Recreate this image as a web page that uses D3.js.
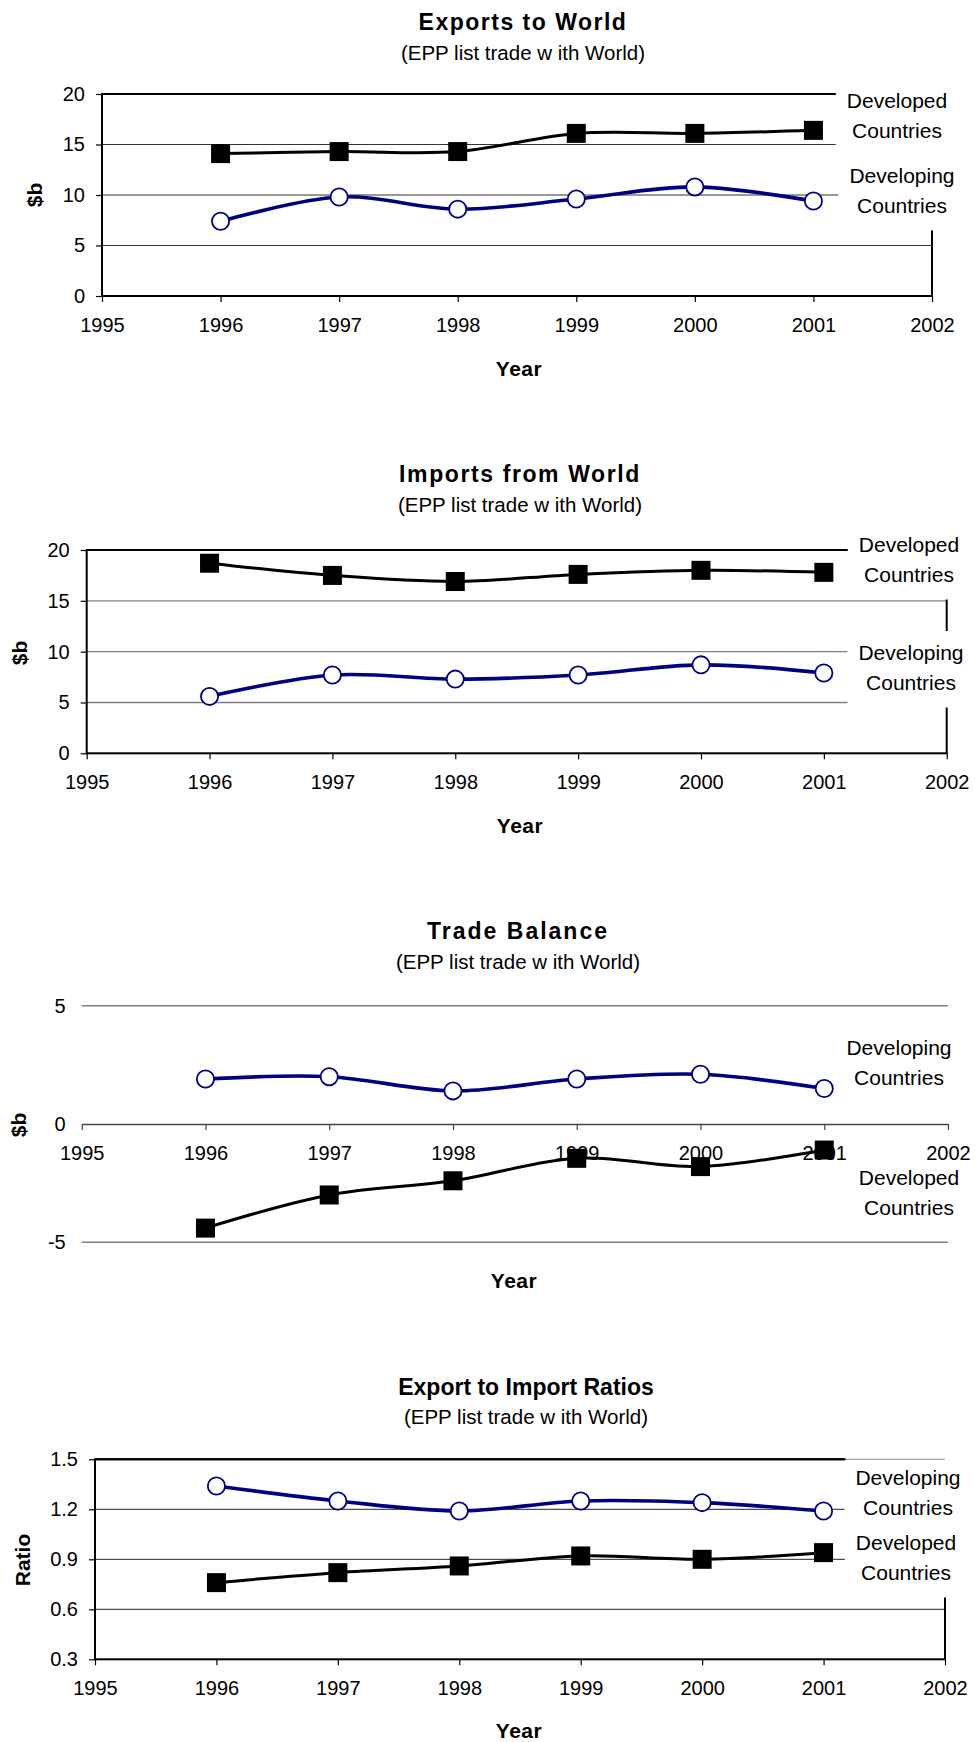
<!DOCTYPE html>
<html>
<head>
<meta charset="utf-8">
<script src="https://cdn.jsdelivr.net/npm/d3@7"></script>
<style>
  body { margin: 0; background: #fff; }
  svg text { font-family: "Liberation Sans", Arial, sans-serif; fill: #000; }
</style>
</head>
<body>
<svg id="chart" width="975" height="1742"></svg>
<script>
/* EPP list trade with World — four small line charts */

const years = [1996, 1997, 1998, 1999, 2000, 2001];
const yearTicks = [1995, 1996, 1997, 1998, 1999, 2000, 2001, 2002];
const seriesNames = { dev: 'Developed Countries', dvg: 'Developing Countries' };
const subtitle = '(EPP list trade w ith World)';

// $b
const exportsDeveloped = [14.1, 14.3, 14.3, 16.1, 16.1, 16.4];
const exportsDeveloping = [7.4, 9.8, 8.6, 9.6, 10.8, 9.4];
const importsDeveloped = [18.7, 17.5, 16.9, 17.6, 18.0, 17.8];
const importsDeveloping = [5.6, 7.7, 7.3, 7.7, 8.7, 7.9];
const balanceDeveloped = [-4.4, -3.0, -2.4, -1.45, -1.8, -1.1];
const balanceDeveloping = [1.9, 2.0, 1.4, 1.9, 2.1, 1.5];
// ratio
const ratioDeveloped = [0.76, 0.82, 0.86, 0.92, 0.90, 0.94];
const ratioDeveloping = [1.34, 1.25, 1.19, 1.25, 1.24, 1.19];

const moneyTicks = [0, 5, 10, 15, 20];
const balanceTicks = [-5, 0, 5];
const ratioTicks = [0.3, 0.6, 0.9, 1.2, 1.5];

const NAVY = '#000080';
const FONT = '"Liberation Sans", Arial, sans-serif';
const svg = d3.select('#chart');

// plain hyphen for negatives, like the original
const intFmt = d => String(d);
const ratioFmt = d => d.toFixed(1);

const panels = [
  {
    title: 'Exports to World', titleX: 523, titleY: 30, subY: 60, spacing: 1.5,
    x0: 102, x1: 932, yTop: 94, yBot: 296, domain: [0, 20], ticks: moneyTicks, fmt: intFmt,
    yLabel: '$b', yLabelX: 34, yLabelY: 195, yearX: 519, yearY: 376,
    frame: true, grid: '#333', gridW: 1,
    dev: exportsDeveloped, dvg: exportsDeveloping,
    legend: [{ key: 'dev', cx: 897, y: 108 }, { key: 'dvg', cx: 902, y: 183 }], box: true
  },
  {
    title: 'Imports from World', titleX: 520, titleY: 482, subY: 512, spacing: 1.6,
    x0: 86.7, x1: 946.7, yTop: 550, yBot: 753.3, domain: [0, 20], ticks: moneyTicks, fmt: intFmt,
    yLabel: '$b', yLabelX: 19, yLabelY: 653, yearX: 520, yearY: 833,
    frame: true, grid: '#808080', gridW: 1.3,
    dev: importsDeveloped, dvg: importsDeveloping,
    legend: [{ key: 'dev', cx: 909, y: 552 }, { key: 'dvg', cx: 911, y: 660 }], box: true
  },
  {
    title: 'Trade Balance', titleX: 518, titleY: 939, subY: 969, spacing: 2,
    x0: 81.7, x1: 948, yTop: 1005.7, yBot: 1242.3, domain: [-5, 5], ticks: balanceTicks, fmt: intFmt,
    yLabel: '$b', yLabelX: 18, yLabelY: 1125, yearX: 514, yearY: 1288,
    frame: false, grid: '#808080', gridW: 1.5,
    dev: balanceDeveloped, dvg: balanceDeveloping,
    legend: [{ key: 'dvg', cx: 899, y: 1055 }, { key: 'dev', cx: 909, y: 1185 }], box: false
  },
  {
    title: 'Export to Import Ratios', titleX: 526, titleY: 1395, subY: 1424, spacing: 0,
    x0: 95, x1: 945, yTop: 1459.3, yBot: 1659.3, domain: [0.3, 1.5], ticks: ratioTicks, fmt: ratioFmt,
    yLabel: 'Ratio', yLabelX: 22, yLabelY: 1560, yearX: 519, yearY: 1738,
    frame: true, grid: '#222', gridW: 1, topGrid: '#909090',
    dev: ratioDeveloped, dvg: ratioDeveloping,
    legend: [{ key: 'dvg', cx: 908, y: 1485 }, { key: 'dev', cx: 906, y: 1550 }], box: true
  }
];

panels.forEach(drawPanel);

function drawPanel(p) {
  const g = svg.append('g');

  const x = d3.scaleLinear().domain([1995, 2002]).range([p.x0, p.x1]);
  const y = d3.scaleLinear().domain(p.domain).range([p.yBot, p.yTop]);

  // ---- Titles ----
  g.append('text')
    .attr('x', p.titleX).attr('y', p.titleY)
    .attr('text-anchor', 'middle')
    .attr('font-size', 23).attr('font-weight', 'bold')
    .attr('letter-spacing', p.spacing)
    .text(p.title);
  g.append('text')
    .attr('x', p.titleX).attr('y', p.subY)
    .attr('text-anchor', 'middle')
    .attr('font-size', 20.5)
    .text(subtitle);

  // ---- Grid ----
  const inner = p.ticks.filter(t => t !== p.domain[0] && t !== p.domain[1]);
  const gridVals = p.frame ? inner : p.ticks.filter(t => t !== 0);
  g.append('g')
    .selectAll('line').data(gridVals).join('line')
    .attr('x1', x(1995)).attr('x2', x(2002))
    .attr('y1', d => y(d)).attr('y2', d => y(d))
    .attr('stroke', p.grid).attr('stroke-width', p.gridW);

  // ---- Axes ----
  const axisY = p.frame ? y(p.domain[0]) : y(0);
  const xAxis = g.append('g')
    .attr('transform', `translate(0,${axisY})`)
    .call(d3.axisBottom(x).tickValues(yearTicks).tickFormat(intFmt)
      .tickSize(6).tickSizeOuter(0).tickPadding(16))
    .attr('font-size', 20)
    .attr('font-family', FONT);
  if (p.frame) {
    xAxis.select('.domain').remove();
    xAxis.selectAll('.tick line').attr('stroke', '#000').attr('stroke-width', 1.2);
  } else {
    xAxis.select('.domain').attr('stroke', '#444').attr('stroke-width', 1.4);
    xAxis.selectAll('.tick line').attr('stroke', '#444').attr('stroke-width', 1.2);
  }

  const yAxis = g.append('g')
    .attr('transform', `translate(${x(1995)},0)`)
    .call(d3.axisLeft(y).tickValues(p.ticks).tickFormat(p.fmt)
      .tickSize(p.frame ? 6 : 0).tickSizeOuter(0).tickPadding(p.frame ? 11 : 16))
    .attr('font-size', 20)
    .attr('font-family', FONT);
  yAxis.select('.domain').remove();
  yAxis.selectAll('.tick line').attr('stroke', '#000').attr('stroke-width', 1.2);

  // ---- Plot frame ----
  if (p.frame) {
    g.append('rect')
      .attr('x', x(1995)).attr('y', y(p.domain[1]))
      .attr('width', x(2002) - x(1995))
      .attr('height', y(p.domain[0]) - y(p.domain[1]))
      .attr('fill', 'none').attr('stroke', '#000').attr('stroke-width', 2);
  }

  // ---- Axis titles ----
  g.append('text')
    .attr('transform', `translate(${p.yLabelX},${p.yLabelY}) rotate(-90)`)
    .attr('text-anchor', 'middle').attr('dominant-baseline', 'central')
    .attr('font-size', 21).attr('font-weight', 'bold')
    .text(p.yLabel);
  g.append('text')
    .attr('x', p.yearX).attr('y', p.yearY)
    .attr('text-anchor', 'middle')
    .attr('font-size', 21).attr('font-weight', 'bold').attr('letter-spacing', 0.5)
    .text('Year');

  // ---- Legend labels (white text boxes over the plot) ----
  p.legend.forEach(l => {
    const lg = g.append('g');
    const box = lg.append('rect').attr('fill', '#fff');
    const lines = seriesNames[l.key].split(' ');
    lg.selectAll('text').data(lines).join('text')
      .attr('x', l.cx).attr('y', (_, i) => l.y + i * 29.5)
      .attr('text-anchor', 'middle')
      .attr('font-size', 21)
      .text(d => d);
    if (p.box) {
      const b = lg.node().getBBox();
      const top = l.y - 29;
      const bottom = l.y + (lines.length - 1) * 29.5 + 18;
      box.attr('x', b.x - 11).attr('y', top)
        .attr('width', b.width + 21).attr('height', bottom - top);
    }
  });
  if (p.topGrid) {
    g.append('line')
      .attr('x1', x(1995)).attr('x2', x(2002))
      .attr('y1', y(p.domain[1])).attr('y2', y(p.domain[1]))
      .attr('stroke', p.topGrid).attr('stroke-width', 1);
    g.append('line')
      .attr('x1', x(1995)).attr('x2', x(2001) + 22)
      .attr('y1', y(p.domain[1])).attr('y2', y(p.domain[1]))
      .attr('stroke', '#000').attr('stroke-width', 2);
  }

  // ---- Series ----
  const line = d3.line()
    .x(d => x(d[0])).y(d => y(d[1]))
    .curve(d3.curveCatmullRom.alpha(0));

  const dev = years.map((yr, i) => [yr, p.dev[i]]);
  const dvg = years.map((yr, i) => [yr, p.dvg[i]]);

  g.append('path').datum(dev)
    .attr('d', line).attr('fill', 'none')
    .attr('stroke', '#000').attr('stroke-width', 3);
  g.append('path').datum(dvg)
    .attr('d', line).attr('fill', 'none')
    .attr('stroke', NAVY).attr('stroke-width', 3.6);

  g.append('g').selectAll('rect').data(dev).join('rect')
    .attr('x', d => x(d[0]) - 9.5).attr('y', d => y(d[1]) - 9.5)
    .attr('width', 19).attr('height', 19)
    .attr('fill', '#000');

  g.append('g').selectAll('circle').data(dvg).join('circle')
    .attr('cx', d => x(d[0])).attr('cy', d => y(d[1]))
    .attr('r', 8.6)
    .attr('fill', '#fff').attr('stroke', NAVY).attr('stroke-width', 1.8);
}
</script>
</body>
</html>
